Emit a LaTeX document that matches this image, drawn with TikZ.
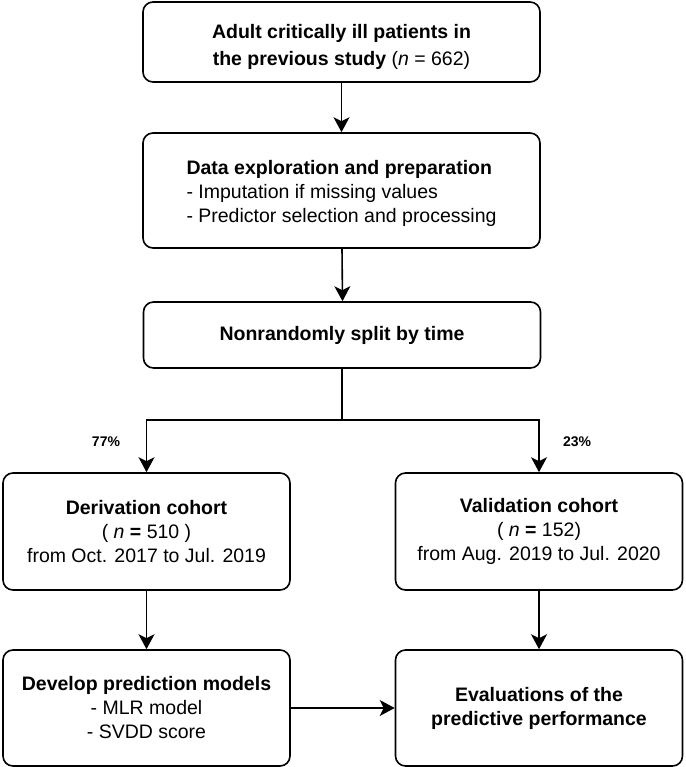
\documentclass[tikz,border=0pt]{standalone}
\usepackage{fontspec}
\setmainfont{Liberation Sans}
\usetikzlibrary{arrows.meta,positioning}
\begin{document}
\begin{tikzpicture}[x=1pt,y=-1pt,
  frame/.style={draw, line width=1.6pt, rounded corners=10pt, inner sep=0pt},
  box/.style={frame, align=center, font=\fontsize{19.5}{24}\selectfont},
  wide/.style={box, minimum width=397pt},
  half/.style={box, minimum width=287pt, minimum height=117pt},
  txt/.style={align=center, inner sep=0pt},
  arr/.style={line width=1.6pt, -{Stealth[length=15pt,width=16pt,inset=4pt]}},
  ln/.style={line width=1.6pt},
  pct/.style={font=\fontsize{14}{16}\selectfont\bfseries}]
\useasboundingbox (0,0) rectangle (685,767);
\node[frame, minimum width=397pt, minimum height=80pt] (b1) at (341.5,42) {};
\node[txt, font=\fontsize{19.5}{27}\selectfont] (b1t) at (341.5,47)
  {\textbf{Adult critically ill patients in}\\\textbf{the previous study} (\textit{n} = 662)};
\node[frame, minimum width=397pt, minimum height=115pt] (b2) at (341.5,190.5) {};
\node[txt, font=\fontsize{19.5}{24}\selectfont] (b2t) at (341.5,193.5)
  {\begin{tabular}{@{}l@{}}\textbf{Data exploration and preparation}\\- Imputation if missing values\\- Predictor selection and processing\end{tabular}};
\node[wide, minimum height=66pt] (b3) at (342,335) {\textbf{Nonrandomly split by time}};
\node[half] (der) at (146.5,531.5)
  {\textbf{Derivation cohort}\\( \textit{n} \textbf{=} 510 )\\from Oct. 2017 to Jul. 2019};
\node[half] (val) at (539,531.5)
  {\textbf{Validation cohort}\\( \textit{n} \textbf{=} 152)\\from Aug. 2019 to Jul. 2020};
\node[half, minimum height=116pt] (dev) at (146.5,708)
  {\textbf{Develop prediction models}\\- MLR model\\- SVDD score};
\node[half, minimum height=116pt] (ev) at (539,708)
  {\textbf{Evaluations of the}\\\textbf{predictive performance}};
\coordinate (split) at (342,420);
\node[pct] (p77) at (106,442) {77\%};
\node[pct] (p23) at (577,442) {23\%};
\draw[arr] (b1.south) -- (b2.north);
\draw[arr] ([xshift=0.5pt]b2.south) -- ([xshift=0.5pt]b3.north);
\draw[ln] (b3.south) -- (split);
\draw[arr] (split) -| (der.north);
\draw[arr] (split) -| (val.north);
\draw[arr] (der.south) -- (dev.north);
\draw[arr] (val.south) -- (ev.north);
\draw[arr] (dev.east) -- (ev.west);
\end{tikzpicture}
\end{document}
